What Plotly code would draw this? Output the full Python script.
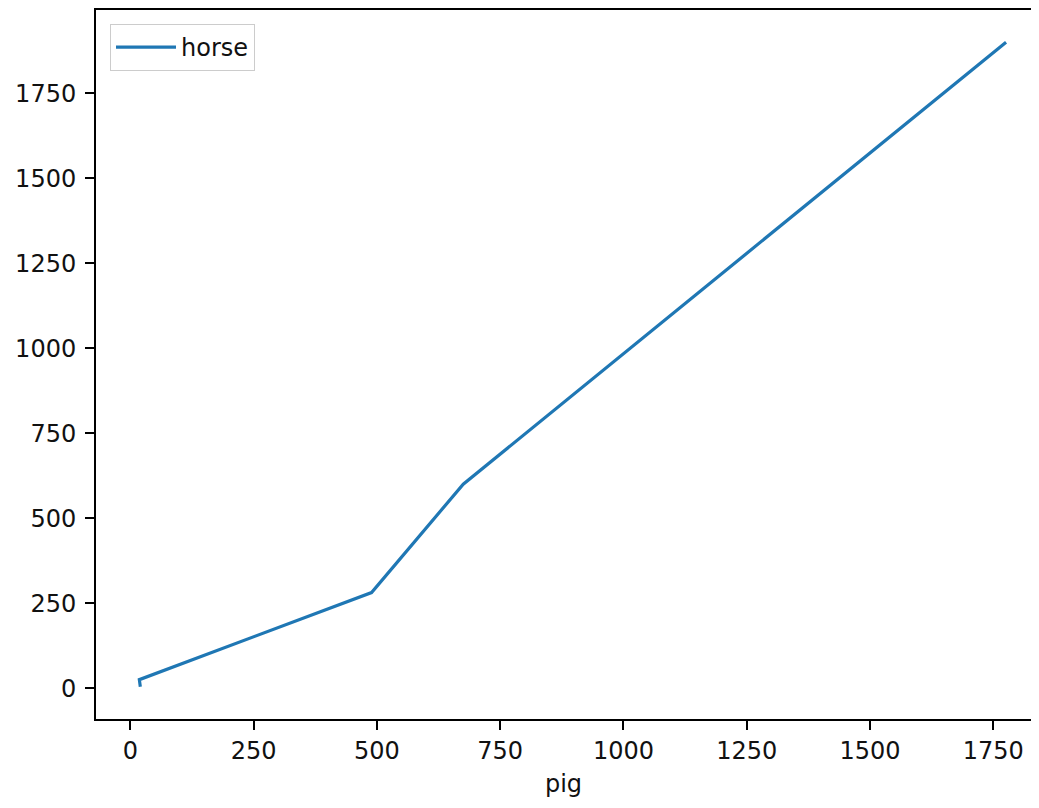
import plotly.graph_objects as go

pig = [20, 18, 489, 675, 1776]
horse = [4, 25, 281, 600, 1900]
series_name = "horse"
x_label = "pig"
tick_vals = [0, 250, 500, 750, 1000, 1250, 1500, 1750]

# page body has an 8px margin; keep the figure inside the window
W, H = 1023, 790
L, R, T, B = 88, 0, 2, 79
font = dict(family="DejaVu Sans", size=24, color="#111")

fig = go.Figure()
fig.add_trace(go.Scatter(x=pig, y=horse, mode="lines", name=series_name,
                         line=dict(color="#1f77b4", width=3.2), showlegend=True))

axis_common = dict(showgrid=False, zeroline=False, showline=True, linecolor="#000",
                   linewidth=2, ticks="outside", ticklen=9, tickwidth=2, tickcolor="#000",
                   tickvals=tick_vals, tickfont=font, automargin=False)

fig.update_layout(
    width=W, height=H,
    margin=dict(l=L, r=R, t=T, b=B, pad=0, autoexpand=False),
    plot_bgcolor="white", paper_bgcolor="white",
    font=font,
    xaxis=dict(range=[-69.9, 1826.6], mirror=True, ticklabelstandoff=0,
               title=dict(text=x_label, font=font, standoff=16), **axis_common),
    yaxis=dict(range=[-90.8, 1994.8], mirror=False, ticklabelstandoff=4, **axis_common),
    showlegend=True,
    legend=dict(x=(102 - L) / (W - L - R), y=1 - (16 - T) / (H - T - B),
                xanchor="left", yanchor="top",
                bordercolor="#ccc", borderwidth=1, bgcolor="rgba(255,255,255,0.8)",
                font=font, itemwidth=60),
)

fig.write_html("out.html")
